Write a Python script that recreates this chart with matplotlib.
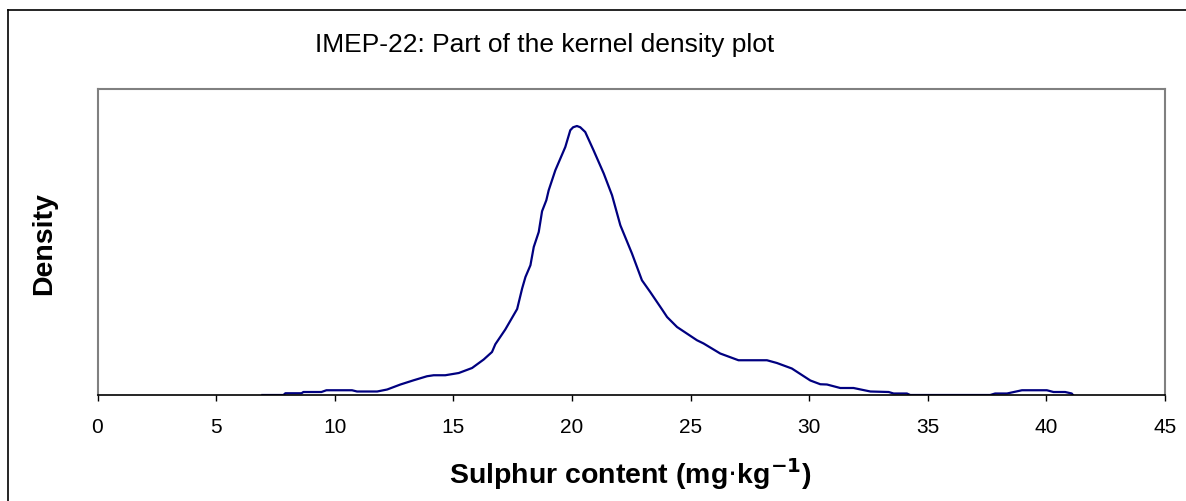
import matplotlib
matplotlib.use("Agg")
import matplotlib.pyplot as plt
from matplotlib.lines import Line2D

plt.rcParams['font.family'] = ['Liberation Sans', 'DejaVu Sans']

# Kernel density curve (x in mg/kg, density in arbitrary units)
sulphur = [6.95, 7.84, 7.92, 8.60, 8.68, 9.44, 9.65, 10.73, 10.94, 11.79, 12.21, 12.77,
           13.33, 13.89, 14.17, 14.66, 15.23, 15.79, 16.28, 16.63, 16.77, 17.19, 17.69,
           17.90, 18.04, 18.25, 18.39, 18.60, 18.74, 18.92, 19.02, 19.30, 19.72, 19.93,
           20.05, 20.21, 20.35, 20.56, 20.91, 21.34, 21.69, 22.04, 22.53, 22.95, 23.30,
           23.80, 24.01, 24.43, 25.27, 25.55, 26.25, 27.02, 28.22, 28.64, 29.27, 30.05,
           30.47, 30.75, 31.31, 31.87, 32.58, 33.35, 33.56, 34.12, 34.26, 37.63, 37.84,
           38.34, 38.97, 40.02, 40.30, 40.79, 41.07, 41.12]
density = [0.0, 0.0, 0.0007, 0.0007, 0.0012, 0.0012, 0.0019, 0.0019, 0.0014, 0.0014,
           0.0022, 0.0042, 0.0059, 0.0075, 0.0079, 0.0079, 0.0088, 0.0108, 0.0142, 0.0172,
           0.0203, 0.0262, 0.0344, 0.0426, 0.0472, 0.0519, 0.0592, 0.0652, 0.0735, 0.0779,
           0.0819, 0.0899, 0.0992, 0.1059, 0.1071, 0.1076, 0.1071, 0.1052, 0.0979, 0.0886,
           0.0799, 0.0679, 0.0566, 0.0459, 0.0412, 0.0342, 0.0312, 0.0272, 0.0219, 0.0206,
           0.0166, 0.0139, 0.0139, 0.0128, 0.0106, 0.0058, 0.0043, 0.0042, 0.0028, 0.0028,
           0.0014, 0.0012, 0.0006, 0.0006, 0.0, 0.0, 0.0006, 0.0006, 0.0019, 0.0019,
           0.0012, 0.0012, 0.0006, 0.0]
xticks = [0, 5, 10, 15, 20, 25, 30, 35, 40, 45]

W, H = 1186, 501
fig = plt.figure(figsize=(W / 100, H / 100), dpi=100)
fig.patch.set_facecolor('white')

# outer chart border (only left and top visible in the crop)
fig.add_artist(Line2D([8 / W, 8 / W], [0, 1 - 10 / H], color='black', lw=1.2))
fig.add_artist(Line2D([8 / W, 1], [1 - 10 / H, 1 - 10 / H], color='black', lw=1.2))

ax = fig.add_axes([97.5 / W, 1 - 395 / H, (1165 - 97.5) / W, (395 - 89) / H])
ax.plot(sulphur, density, color='#000080', lw=1.6)

ax.set_xlim(0, 45)
ax.set_ylim(0, 0.1224)
ax.set_xticks(xticks)
ax.set_yticks([])
ax.tick_params(axis='x', direction='out', length=4.5, width=1, pad=12,
               labelsize=15, color='black')

for side in ['top', 'right', 'left']:
    ax.spines[side].set_color('#808080')
    ax.spines[side].set_linewidth(1.5)
ax.spines['bottom'].set_color('black')
ax.spines['bottom'].set_linewidth(1.2)

fig.text(545 / W, 1 - 45 / H, 'IMEP-22: Part of the kernel density plot',
         ha='center', va='center', fontsize=19)
fig.text(630 / W, 1 - 474 / H, r'Sulphur content (mg$\cdot$kg$^{\mathbf{-1}}$)',
         ha='center', va='center', fontsize=20.5, fontweight='bold')
fig.text(44 / W, 1 - 244 / H, 'Density', ha='center', va='center',
         rotation=90, fontsize=20.5, fontweight='bold')

fig.savefig('out.png', dpi=100)
